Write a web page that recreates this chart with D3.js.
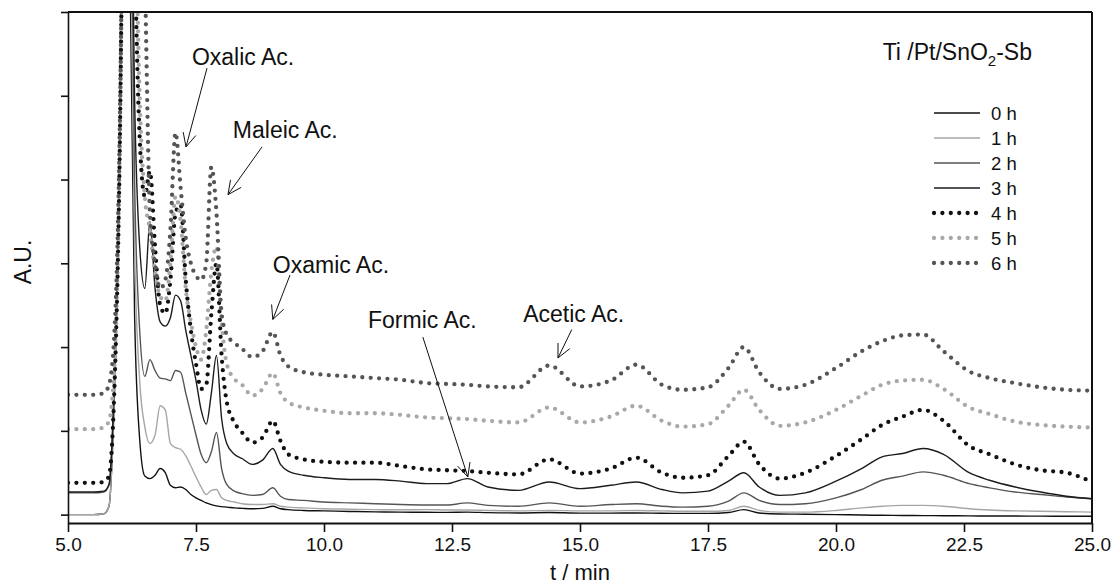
<!DOCTYPE html>
<html>
<head>
<meta charset="utf-8">
<script src="https://cdn.jsdelivr.net/npm/d3@7"></script>
<style>
  html, body { margin: 0; padding: 0; background: #fff; }
  svg { display: block; font-family: "Liberation Sans", Arial, Helvetica, sans-serif; }
</style>
</head>
<body>
<svg id="chart" width="1114" height="585"></svg>
<script>
// Retention times (min) shared by every chromatogram
const times = [5.0, 5.5, 5.7, 5.8, 5.9, 6.0, 6.1, 6.2, 6.3, 6.4, 6.5, 6.6, 6.7, 6.8, 6.9,
  7.0, 7.1, 7.2, 7.3, 7.4, 7.5, 7.6, 7.7, 7.8, 7.9, 8.0, 8.1, 8.25, 8.4, 8.6, 8.8,
  9.0, 9.15, 9.3, 9.6, 10.0, 10.5, 11.0, 11.5, 12.0, 12.4, 12.8, 13.2, 13.8, 14.4,
  15.0, 15.6, 16.1, 16.6, 17.0, 17.5, 17.9, 18.2, 18.5, 18.9, 19.4, 20.0, 20.5,
  20.9, 21.3, 21.7, 22.1, 22.6, 23.0, 23.5, 24.0, 24.5, 25.0];

// Detector response (A.U.) for each electrolysis time
const h0 = [0, 0, 0.01, 0.1, 1.3, 3.8, 9, 7, 2.4, 0.9, 0.46, 0.43, 0.47, 0.55, 0.5,
  0.35, 0.32, 0.33, 0.3, 0.24, 0.2, 0.17, 0.14, 0.12, 0.105, 0.095, 0.09, 0.08, 0.075, 0.07, 0.075,
  0.1, 0.07, 0.06, 0.05, 0.045, 0.038, 0.033, 0.03, 0.028, 0.027, 0.03, 0.024, 0.02, 0.025,
  0.018, 0.018, 0.02, 0.016, 0.015, 0.015, 0.025, 0.06, 0.02, 0.008, 0.005, 0.0, -0.005,
  -0.008, -0.01, -0.012, -0.013, -0.015, -0.016, -0.017, -0.018, -0.019, -0.02];
const h1 = [0, 0, 0.01, 0.1, 1.3, 3.8, 9.5, 8, 3.2, 1.6, 1.05, 0.85, 0.95, 1.3, 1.25,
  0.85, 0.8, 0.78, 0.7, 0.58, 0.45, 0.33, 0.24, 0.29, 0.3, 0.2, 0.17, 0.15, 0.13, 0.12, 0.12,
  0.13, 0.1, 0.09, 0.08, 0.07, 0.065, 0.06, 0.058, 0.06, 0.055, 0.055, 0.05, 0.045, 0.05,
  0.045, 0.045, 0.05, 0.045, 0.04, 0.04, 0.05, 0.1, 0.05, 0.03, 0.03, 0.05, 0.08,
  0.1, 0.11, 0.11, 0.1, 0.07, 0.055, 0.045, 0.04, 0.035, 0.03];
const h2 = [0.26, 0.26, 0.27, 0.35, 1.5, 4, 10, 9, 4, 2.2, 1.65, 1.85, 1.72, 1.63, 1.62,
  1.6, 1.72, 1.7, 1.45, 1.2, 0.95, 0.72, 0.62, 0.75, 0.98, 0.55, 0.36, 0.28, 0.25, 0.23, 0.24,
  0.32, 0.22, 0.18, 0.17, 0.15, 0.14, 0.13, 0.12, 0.115, 0.115, 0.14, 0.11, 0.1, 0.14,
  0.1, 0.12, 0.13, 0.1, 0.09, 0.1, 0.16, 0.26, 0.17, 0.12, 0.13, 0.2, 0.3,
  0.41, 0.46, 0.51, 0.47, 0.37, 0.32, 0.27, 0.24, 0.21, 0.19];
const h3 = [0.27, 0.27, 0.28, 0.36, 1.5, 4, 10, 10, 5, 3.2, 2.7, 3.5, 2.7, 2.3, 2.25,
  2.35, 2.62, 2.55, 2.2, 1.9, 1.6, 1.25, 1.08, 1.45, 1.9, 1.15, 0.85, 0.72, 0.67, 0.6, 0.65,
  0.79, 0.6, 0.52, 0.47, 0.44, 0.42, 0.42, 0.4, 0.37, 0.37, 0.43, 0.33, 0.29, 0.39,
  0.31, 0.35, 0.39, 0.3, 0.26, 0.28, 0.4, 0.5, 0.33, 0.23, 0.26, 0.4, 0.55,
  0.69, 0.73, 0.79, 0.72, 0.5, 0.41, 0.33, 0.27, 0.22, 0.19];
const h4 = [0.38, 0.38, 0.39, 0.46, 1.4, 3.9, 9, 12, 7, 4.5, 3.8, 4.1, 3.2, 2.5, 2.4,
  2.8, 3.6, 3.7, 2.8, 2.2, 1.8, 1.5, 1.55, 2.4, 3.0, 1.9, 1.35, 1.1, 0.98, 0.86, 0.92,
  1.12, 0.88, 0.72, 0.66, 0.63, 0.62, 0.62, 0.58, 0.54, 0.53, 0.52, 0.5, 0.48, 0.66,
  0.49, 0.55, 0.68, 0.5, 0.44, 0.47, 0.7, 0.87, 0.6, 0.43, 0.5, 0.7, 0.9,
  1.07, 1.17, 1.25, 1.12, 0.82, 0.72, 0.6, 0.53, 0.5, 0.39];
const h5 = [1.02, 1.02, 1.04, 1.12, 1.7, 4, 9, 12, 8, 5, 3.8, 3.4, 2.9, 2.6, 2.55,
  3.0, 3.8, 3.5, 2.7, 2.3, 2.0, 1.85, 2.2, 2.9, 3.2, 2.3, 1.8, 1.62, 1.55, 1.42, 1.5,
  1.69, 1.45, 1.34, 1.28, 1.24, 1.21, 1.21, 1.19, 1.16, 1.15, 1.14, 1.12, 1.1, 1.28,
  1.1, 1.17, 1.3, 1.12, 1.05, 1.08, 1.3, 1.49, 1.25, 1.06, 1.1, 1.25, 1.42,
  1.55, 1.6, 1.61, 1.5, 1.28, 1.2, 1.11, 1.07, 1.05, 1.04];
const h6 = [1.43, 1.43, 1.45, 1.55, 2.1, 4.2, 9, 14, 12, 9, 6.5, 3.6, 3.0, 2.7, 2.8,
  3.4, 4.56, 3.9, 3.3, 3.0, 2.85, 2.8, 3.0, 4.15, 3.6, 2.4, 2.15, 2.05, 1.98, 1.88, 1.95,
  2.18, 1.9, 1.77, 1.7, 1.67, 1.65, 1.63, 1.61, 1.57, 1.56, 1.55, 1.53, 1.52, 1.78,
  1.53, 1.6, 1.79, 1.55, 1.49, 1.52, 1.75, 2.0, 1.7, 1.5, 1.55, 1.75, 1.95,
  2.07, 2.14, 2.15, 1.95, 1.71, 1.63, 1.57, 1.52, 1.49, 1.48];

const seriesLabels = ["0 h", "1 h", "2 h", "3 h", "4 h", "5 h", "6 h"];
const seriesValues = [h0, h1, h2, h3, h4, h5, h6];

// Axis ticks
const xTicks = [5.0, 7.5, 10.0, 12.5, 15.0, 17.5, 20.0, 22.5, 25.0];
const yTicks = [0, 1, 2, 3, 4, 5, 6];

// Peak annotations: label, text anchor (t, A.U.), arrow tail and arrow tip (t, A.U.)
const peakNames = ["Oxalic Ac.", "Maleic Ac.", "Oxamic Ac.", "Formic Ac.", "Acetic Ac."];
const peakText = [[7.42, 5.37], [8.22, 4.5], [9.0, 2.89], [10.86, 2.23], [13.89, 2.3]];
const peakTail = [[7.715, 5.33], [8.79, 4.39], [9.336, 2.86], [11.93, 2.12], [14.84, 2.21]];
const peakTip = [[7.305, 4.39], [8.125, 3.82], [9.0, 2.33], [12.81, 0.45], [14.57, 1.87]];

// ---- drawing ----
const svg = d3.select("#chart");
const plot = { left: 68, right: 1092, top: 12, bottom: 523 };

const x = d3.scaleLinear().domain([5, 25]).range([plot.left, plot.right]);
const y = d3.scaleLinear().domain([-0.1, 6]).range([plot.bottom, plot.top]);

// Line styles per series
const styles = [
  { color: "#111", dotted: false },
  { color: "#a6a6a6", dotted: false },
  { color: "#555", dotted: false },
  { color: "#1c1c1c", dotted: false },
  { color: "#111", dotted: true },
  { color: "#a8a8a8", dotted: true },
  { color: "#555", dotted: true }
];

svg.append("defs").append("clipPath").attr("id", "plot-clip")
  .append("rect")
  .attr("x", plot.left).attr("y", plot.top)
  .attr("width", plot.right - plot.left).attr("height", plot.bottom - plot.top);

const line = d3.line()
  .x(d => x(d[0]))
  .y(d => y(d[1]))
  .curve(d3.curveMonotoneX);

const curves = svg.append("g").attr("clip-path", "url(#plot-clip)");

function applyStyle(sel, st) {
  sel.attr("fill", "none").attr("stroke", st.color);
  if (st.dotted) {
    sel.attr("stroke-width", 4.3)
      .attr("stroke-linecap", "round")
      .attr("stroke-dasharray", "0 8.4");
  } else {
    sel.attr("stroke-width", 1.4).attr("stroke-linejoin", "round");
  }
  return sel;
}

seriesValues.forEach((vals, i) => {
  const pts = times.map((t, j) => [t, vals[j]]);
  applyStyle(curves.append("path").attr("d", line(pts)), styles[i]);
});

// Axes
const xAxis = d3.axisBottom(x).tickValues(xTicks).tickFormat(d3.format(".1f"))
  .tickSize(9).tickSizeOuter(0).tickPadding(6);
const gx = svg.append("g").attr("transform", `translate(0,${plot.bottom})`).call(xAxis);
gx.select(".domain").attr("stroke", "#111").attr("stroke-width", 2);
gx.selectAll(".tick line").attr("stroke", "#111").attr("stroke-width", 1.6);
gx.selectAll(".tick text").attr("font-size", 19).attr("fill", "#111")
  .attr("font-family", "Liberation Sans, Arial, sans-serif");

const yAxis = d3.axisLeft(y).tickValues(yTicks).tickFormat("")
  .tickSize(7).tickSizeOuter(0);
const gy = svg.append("g").attr("transform", `translate(${plot.left},0)`).call(yAxis);
gy.select(".domain").attr("stroke", "#111").attr("stroke-width", 1.6);
gy.selectAll(".tick line").attr("stroke", "#111").attr("stroke-width", 1.6);

// Frame: top and right
svg.append("line").attr("x1", plot.left).attr("x2", plot.right)
  .attr("y1", plot.top).attr("y2", plot.top)
  .attr("stroke", "#111").attr("stroke-width", 2);
svg.append("line").attr("x1", plot.right).attr("x2", plot.right)
  .attr("y1", plot.top).attr("y2", plot.bottom + 1)
  .attr("stroke", "#111").attr("stroke-width", 2);

// Axis titles
svg.append("text").attr("x", 580).attr("y", 580).attr("text-anchor", "middle")
  .attr("font-size", 22).attr("fill", "#111").text("t / min");
svg.append("text")
  .attr("transform", `translate(31,262) rotate(-90)`)
  .attr("text-anchor", "middle").attr("font-size", 23).attr("fill", "#111")
  .text("A.U.");

// Electrode label
const title = svg.append("text").attr("x", 1032).attr("y", 60)
  .attr("text-anchor", "end").attr("font-size", 23).attr("fill", "#111");
title.append("tspan").text("Ti /Pt/SnO");
title.append("tspan").attr("font-size", 15).attr("dy", 6).text("2");
title.append("tspan").attr("dy", -6).text("-Sb");

// Legend
const legend = svg.append("g");
seriesLabels.forEach((lab, i) => {
  const ly = 113 + i * 25;
  applyStyle(legend.append("line")
    .attr("x1", 934).attr("x2", 980).attr("y1", ly).attr("y2", ly), styles[i]);
  legend.append("text").attr("x", 991).attr("y", ly + 6.5)
    .attr("font-size", 18.5).attr("fill", "#111").text(lab);
});

// Peak labels with open arrows
const notes = svg.append("g");
peakNames.forEach((name, i) => {
  notes.append("text")
    .attr("x", x(peakText[i][0])).attr("y", y(peakText[i][1]))
    .attr("font-size", 23).attr("fill", "#111").text(name);
  const x1 = x(peakTail[i][0]), y1 = y(peakTail[i][1]);
  const x2 = x(peakTip[i][0]), y2 = y(peakTip[i][1]);
  notes.append("line").attr("x1", x1).attr("y1", y1).attr("x2", x2).attr("y2", y2)
    .attr("stroke", "#111").attr("stroke-width", 1);
  const ang = Math.atan2(y1 - y2, x1 - x2);
  const len = 15, spread = 0.45;
  const head = [
    [x2 + len * Math.cos(ang - spread), y2 + len * Math.sin(ang - spread)],
    [x2, y2],
    [x2 + len * Math.cos(ang + spread), y2 + len * Math.sin(ang + spread)]
  ];
  notes.append("path").attr("d", d3.line()(head))
    .attr("fill", "none").attr("stroke", "#111").attr("stroke-width", 1);
});
</script>
</body>
</html>
